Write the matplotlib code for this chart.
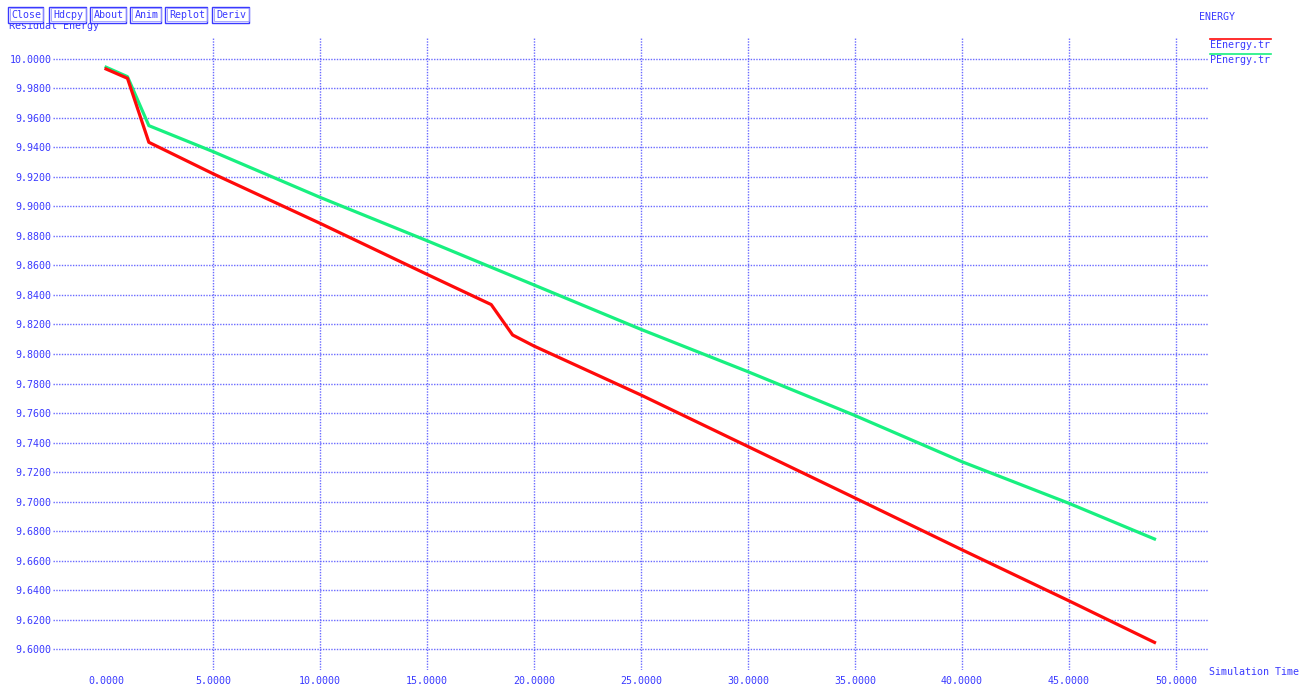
import matplotlib
matplotlib.use("Agg")
import matplotlib.pyplot as plt
from matplotlib.patches import Rectangle
import numpy as np

# Residual energy traces over simulation time
e_time = [0.0, 1.0, 2.0, 5.0, 10.0, 15.0, 18.0, 19.0, 20.0, 25.0, 30.0, 35.0, 40.0, 45.0, 49.0]
e_energy = [9.9932, 9.9869, 9.9435, 9.9222, 9.8886, 9.8540, 9.8335, 9.8129, 9.8054,
            9.7722, 9.7373, 9.7024, 9.6673, 9.6327, 9.6045]

p_time = [0.0, 1.0, 2.0, 5.0, 10.0, 15.0, 20.0, 25.0, 30.0, 35.0, 40.0, 45.0, 49.0]
p_energy = [9.9944, 9.9880, 9.9548, 9.9372, 9.9062, 9.8768, 9.8468, 9.8167, 9.7880,
            9.7583, 9.7270, 9.6988, 9.6746]

x_ticks = [0, 5, 10, 15, 20, 25, 30, 35, 40, 45, 50]
y_ticks = [9.60, 9.62, 9.64, 9.66, 9.68, 9.70, 9.72, 9.74, 9.76, 9.78, 9.80,
           9.82, 9.84, 9.86, 9.88, 9.90, 9.92, 9.94, 9.96, 9.98, 10.00]
buttons = ["Close", "Hdcpy", "About", "Anim", "Replot", "Deriv"]
series_names = ["EEnergy.tr", "PEnergy.tr"]

W, H = 1307, 692
BLUE = "#3a3aff"
GRID = "#5a5aff"
RED = "#ff0a0a"
GREEN = "#18f080"
MONO = "DejaVu Sans Mono"

fig = plt.figure(figsize=(W / 100, H / 100), dpi=100)
fig.patch.set_facecolor("white")


def fx(px):
    return px / W


def fy(py):
    return 1 - py / H


ax = fig.add_axes([fx(53), fy(670), fx(1208) - fx(53), fy(38) - fy(670)])
ax.set_facecolor("white")
for s in ax.spines.values():
    s.set_visible(False)

ax.set_xlim(-2.48, 51.5)
ax.set_ylim(9.5858, 10.0142)
ax.set_xticks(x_ticks)
ax.set_yticks(y_ticks)
ax.set_xticklabels([f"{v:.4f}" for v in x_ticks])
ax.set_yticklabels([f"{v:.4f}" for v in y_ticks])
ax.tick_params(axis="both", length=0, colors=BLUE, labelsize=7.2)
ax.tick_params(axis="y", pad=1)
ax.tick_params(axis="x", pad=4)
for lab in ax.get_xticklabels() + ax.get_yticklabels():
    lab.set_fontfamily(MONO)

ax.grid(True, color=GRID, linestyle=(0, (1, 1)), linewidth=1.0, alpha=0.9)
ax.xaxis.get_gridlines()[0].set_visible(False)
ax.set_axisbelow(True)

ax.plot(e_time, e_energy, color=RED, linewidth=2.3, solid_joinstyle="round", zorder=3)
ax.plot(p_time, p_energy, color=GREEN, linewidth=2.3, solid_joinstyle="round", zorder=2)

# Axis captions
fig.text(fx(9), fy(29), "Residual Energy", color=BLUE, fontsize=7.2,
         family=MONO, ha="left", va="baseline")
fig.patches.append(Rectangle((0, fy(23)), fx(260), 1 - fy(23), transform=fig.transFigure,
                             facecolor="white", edgecolor="none", zorder=5))
fig.text(fx(1209), fy(672), "Simulation Time", color=BLUE, fontsize=7.2,
         family=MONO, ha="left", va="center")

# Toolbar buttons
btn_x = [(8, 43), (49, 86), (90, 126), (130, 161), (165, 207), (212, 249)]
for name, (x0, x1) in zip(buttons, btn_x):
    fig.patches.append(Rectangle((fx(x0), fy(23)), fx(x1 - x0), fy(7) - fy(23),
                                 transform=fig.transFigure, facecolor="white",
                                 edgecolor=BLUE, linewidth=1.0, zorder=6))
    fig.patches.append(Rectangle((fx(x0 + 2), fy(21)), fx(x1 - x0 - 2), fy(8) - fy(21),
                                 transform=fig.transFigure, facecolor="none",
                                 edgecolor="#9a9aff", linewidth=0.6, zorder=6))
    fig.text(fx((x0 + x1) / 2 + 1), fy(15), name, color=BLUE, fontsize=7.2,
             family=MONO, ha="center", va="center", zorder=7)

# Legend block
fig.text(fx(1199), fy(17), "ENERGY", color=BLUE, fontsize=7.2, family=MONO,
         ha="left", va="center")
for i, (name, col) in enumerate(zip(series_names, [RED, GREEN])):
    yl = 39 + 15 * i
    fig.add_artist(plt.Line2D([fx(1210), fx(1271)], [fy(yl), fy(yl)],
                              color=col, linewidth=1.2, transform=fig.transFigure))
    fig.text(fx(1210), fy(yl + 6), name, color=BLUE, fontsize=7.2, family=MONO,
             ha="left", va="center")

fig.savefig("out.png", dpi=100, facecolor="white")
